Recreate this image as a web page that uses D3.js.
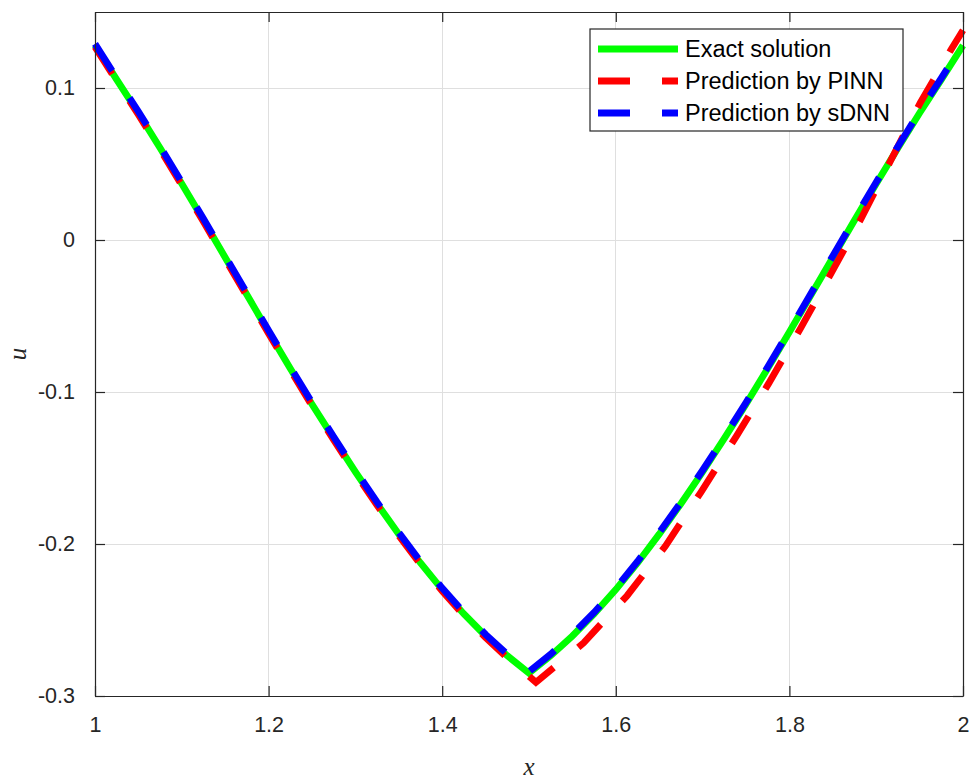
<!DOCTYPE html>
<html>
<head>
<meta charset="utf-8">
<script src="https://cdn.jsdelivr.net/npm/d3@7"></script>
<style>
  html, body { margin: 0; padding: 0; background: #fff; }
  svg { display: block; }
</style>
</head>
<body>
<svg id="chart" width="975" height="782"></svg>
<script>
// ---- data ----
const exactX = [1.000, 1.025, 1.050, 1.075, 1.100, 1.125, 1.150, 1.175, 1.200, 1.225, 1.250, 1.275, 1.300, 1.325, 1.350, 1.375, 1.400, 1.425, 1.450, 1.475, 1.500,
                1.525, 1.550, 1.575, 1.600, 1.625, 1.650, 1.675, 1.700, 1.725, 1.750, 1.775, 1.800, 1.825, 1.850, 1.875, 1.900, 1.925, 1.950, 1.975, 2.000];
const exactU = [0.128, 0.1055, 0.0835, 0.0605, 0.037, 0.013, -0.0115, -0.036, -0.0605, -0.0845, -0.108, -0.1305, -0.1525, -0.1735, -0.1935, -0.2125, -0.230, -0.246, -0.2605, -0.2735, -0.285,
                -0.2735, -0.2605, -0.246, -0.230, -0.2125, -0.1935, -0.1735, -0.1525, -0.1305, -0.108, -0.0845, -0.0605, -0.036, -0.0115, 0.013, 0.037, 0.0605, 0.0835, 0.1055, 0.128];

const pinnX = [1.000, 1.025, 1.050, 1.075, 1.100, 1.125, 1.150, 1.175, 1.200, 1.225, 1.250, 1.275, 1.300, 1.325, 1.350, 1.375, 1.400, 1.425, 1.450, 1.475, 1.500, 1.508,
               1.563, 1.613, 1.657, 1.698, 1.739, 1.776, 1.813, 1.848, 1.883, 1.916, 1.951, 1.986, 2.000];
const pinnU = [0.127, 0.1045, 0.0825, 0.0595, 0.036, 0.012, -0.0125, -0.037, -0.0615, -0.0855, -0.109, -0.1315, -0.1535, -0.1745, -0.1945, -0.2135, -0.231, -0.247, -0.2615, -0.275, -0.287, -0.291,
               -0.265, -0.234, -0.2015, -0.166, -0.129, -0.0945, -0.058, -0.022, 0.0145, 0.0515, 0.0905, 0.125, 0.138];

const sdnnX = [1.000, 1.025, 1.050, 1.075, 1.100, 1.125, 1.150, 1.175, 1.200, 1.225, 1.250, 1.275, 1.300, 1.325, 1.350, 1.375, 1.400, 1.425, 1.450, 1.475, 1.500,
               1.525, 1.550, 1.575, 1.600, 1.625, 1.650, 1.675, 1.700, 1.725, 1.750, 1.775, 1.800, 1.825, 1.850, 1.875, 1.900, 1.925, 1.950, 1.975, 2.000];
const sdnnU = [0.129, 0.1065, 0.0845, 0.0615, 0.038, 0.014, -0.0105, -0.035, -0.0595, -0.0835, -0.107, -0.1295, -0.1515, -0.1725, -0.1925, -0.2115, -0.229, -0.245, -0.2595, -0.2725, -0.284,
               -0.2725, -0.2595, -0.245, -0.229, -0.2115, -0.1925, -0.1725, -0.1515, -0.1295, -0.107, -0.0835, -0.0595, -0.035, -0.0105, 0.014, 0.038, 0.0615, 0.0845, 0.1065, 0.129];

const xTicks = [1, 1.2, 1.4, 1.6, 1.8, 2];
const yTicks = [-0.3, -0.2, -0.1, 0, 0.1];
const seriesNames = ["Exact solution", "Prediction by PINN", "Prediction by sDNN"];
const seriesColors = ["#00ff00", "#ff0000", "#0000ff"];

// ---- layout ----
const W = 975, H = 782;
const m = { left: 95, right: 12, top: 12, bottom: 86 };
const svg = d3.select("#chart");

const x = d3.scaleLinear().domain([1, 2]).range([m.left, W - m.right]);
const y = d3.scaleLinear().domain([-0.3, 0.15]).range([H - m.bottom, m.top]);

const axisColor = "#262626";
const gridColor = "#dfdfdf";
const tickFont = "Liberation Sans, Arial, Helvetica, sans-serif";

// grid
const g = svg.append("g");
g.selectAll(".gx").data(xTicks).join("line")
  .attr("x1", d => x(d)).attr("x2", d => x(d))
  .attr("y1", y.range()[1]).attr("y2", y.range()[0])
  .attr("stroke", gridColor).attr("stroke-width", 1).attr("shape-rendering", "crispEdges");
g.selectAll(".gy").data(yTicks).join("line")
  .attr("x1", x.range()[0]).attr("x2", x.range()[1])
  .attr("y1", d => y(d)).attr("y2", d => y(d))
  .attr("stroke", gridColor).attr("stroke-width", 1).attr("shape-rendering", "crispEdges");

// lines
const line = d3.line().x(d => x(d[0])).y(d => y(d[1]));
const plot = svg.append("g");
const clipId = "clip";
svg.append("clipPath").attr("id", clipId).append("rect")
  .attr("x", m.left - 4).attr("y", m.top - 4)
  .attr("width", W - m.left - m.right + 8).attr("height", H - m.top - m.bottom + 8);

const seriesData = [
  d3.zip(exactX, exactU),
  d3.zip(pinnX, pinnU),
  d3.zip(sdnnX, sdnnU)
];
const dashes = [null, "32,32", "32,32"];

seriesData.forEach((d, i) => {
  plot.append("path")
    .datum(d)
    .attr("d", line)
    .attr("fill", "none")
    .attr("stroke", seriesColors[i])
    .attr("stroke-width", 6.8)
    .attr("stroke-linejoin", "miter")
    .attr("stroke-dasharray", dashes[i])
    .attr("clip-path", `url(#${clipId})`);
});

// axes (box with inward ticks on all sides)
const axB = d3.axisBottom(x).tickValues(xTicks).tickSizeInner(-10).tickSizeOuter(0).tickPadding(21)
  .tickFormat(d => d3.format("")(d));
const axL = d3.axisLeft(y).tickValues(yTicks).tickSizeInner(-10).tickSizeOuter(0).tickPadding(20)
  .tickFormat(d => d === 0 ? "0" : String(d).replace("−", "-"));
const axT = d3.axisTop(x).tickValues(xTicks).tickSizeInner(-10).tickSizeOuter(0).tickFormat("");
const axR = d3.axisRight(y).tickValues(yTicks).tickSizeInner(-10).tickSizeOuter(0).tickFormat("");

function styleAxis(sel) {
  sel.selectAll("path").attr("stroke", axisColor).attr("stroke-width", 1.2);
  sel.selectAll("line").attr("stroke", axisColor).attr("stroke-width", 1.2);
  sel.selectAll("text").attr("fill", axisColor).attr("font-family", tickFont).attr("font-size", 21.5);
}

svg.append("g").attr("transform", `translate(0,${H - m.bottom})`).call(axB).call(styleAxis);
svg.append("g").attr("transform", `translate(${m.left},0)`).call(axL).call(styleAxis);
svg.append("g").attr("transform", `translate(0,${m.top})`).call(axT).call(styleAxis);
svg.append("g").attr("transform", `translate(${W - m.right},0)`).call(axR).call(styleAxis);

// axis labels
svg.append("text")
  .attr("x", (x.range()[0] + x.range()[1]) / 2).attr("y", 775)
  .attr("text-anchor", "middle")
  .attr("font-family", "Liberation Serif, Times New Roman, serif").attr("font-style", "italic")
  .attr("font-size", 25).attr("fill", axisColor).text("x");
svg.append("text")
  .attr("transform", `translate(26,${(y.range()[0] + y.range()[1]) / 2}) rotate(-90)`)
  .attr("text-anchor", "middle")
  .attr("font-family", "Liberation Serif, Times New Roman, serif").attr("font-style", "italic")
  .attr("font-size", 25).attr("fill", axisColor).text("u");

// legend
const lg = svg.append("g");
const lx0 = 590, ly0 = 29, lw = 313, lh = 102;
lg.append("rect").attr("x", lx0).attr("y", ly0).attr("width", lw).attr("height", lh)
  .attr("fill", "#fff").attr("stroke", axisColor).attr("stroke-width", 1.2);
const rowY = [49, 81, 113];
seriesNames.forEach((name, i) => {
  lg.append("line")
    .attr("x1", 598).attr("x2", 678).attr("y1", rowY[i]).attr("y2", rowY[i])
    .attr("stroke", seriesColors[i]).attr("stroke-width", 6.8)
    .attr("stroke-dasharray", dashes[i]);
  lg.append("text")
    .attr("x", 685).attr("y", rowY[i]).attr("dy", "0.36em")
    .attr("font-family", tickFont).attr("font-size", 23.5).attr("fill", "#000")
    .text(name);
});
</script>
</body>
</html>
